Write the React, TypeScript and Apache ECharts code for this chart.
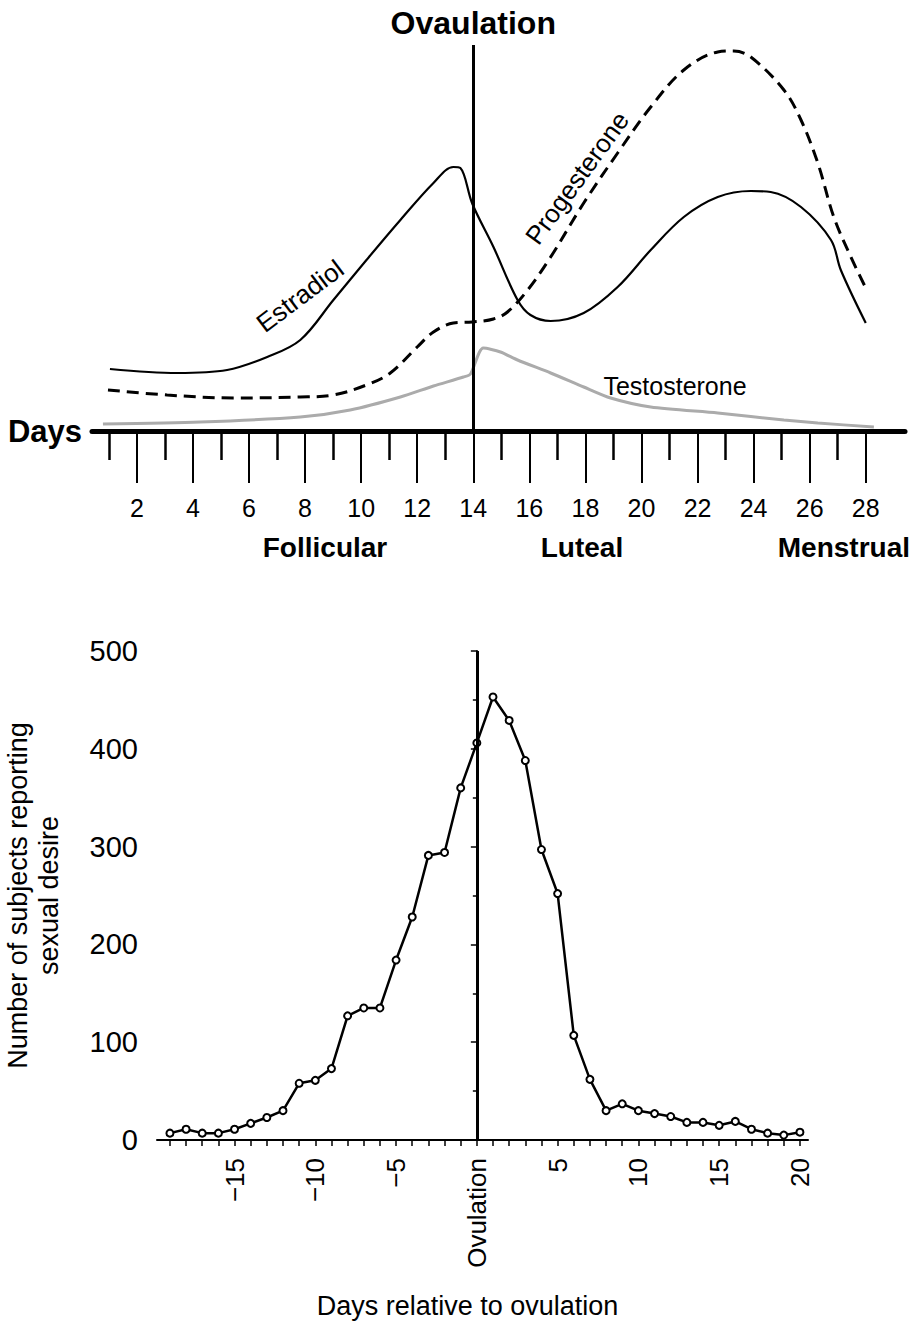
import { useEffect, useRef } from 'react';
import * as echarts from 'echarts';

const FONT = '"Liberation Sans", Arial, Helvetica, sans-serif';

// top panel: hormone levels over the cycle (relative units, 0 = the Days axis)
const estradiolDay = [1.04, 3.44, 5.22, 6.65, 7.83, 9.01, 10.19, 11.4, 12.58, 13.29, 13.54, 13.97, 14.72, 15.58, 16.04, 16.76, 17.94, 19.15, 20.33, 21.51, 22.72, 23.9, 24.61, 25.69, 26.76, 27.11, 28.0];
const estradiolLevel = [15.5, 14.5, 15.25, 18.5, 22.75, 32.75, 42.75, 52.75, 62, 66, 65.75, 56.75, 46, 32.75, 29, 27.5, 29.5, 36, 45.25, 53.5, 58.5, 60, 59.75, 56, 47.75, 40.25, 27];

const progesteroneDay = [0.97, 3.08, 5.44, 7.83, 9.01, 10.19, 11.04, 12.0, 12.58, 13.29, 13.97, 14.72, 15.22, 15.94, 16.76, 17.94, 19.15, 20.33, 21.51, 22.72, 23.29, 23.9, 25.08, 25.69, 26.29, 26.86, 27.47, 28.0];
const progesteroneLevel = [10.25, 9, 8.25, 8.5, 9, 11.5, 14.5, 21, 24.75, 27, 27.25, 28, 29.75, 35.25, 43.5, 57, 69.5, 81, 90.25, 94.75, 95, 93.5, 85.25, 77.75, 67, 53.5, 43.5, 35.75];

const testosteroneDay = [0.79, 4.26, 7.83, 9.61, 11.4, 12.58, 13.65, 13.9, 14.36, 14.97, 15.58, 16.76, 17.94, 18.9, 20.33, 22.72, 25.08, 26.29, 28.29];
const testosteroneLevel = [1.75, 2.25, 3.5, 5.25, 8.5, 11.25, 13.5, 14.25, 20.75, 19.75, 17.75, 14.5, 11, 8.25, 6, 4.5, 2.75, 2, 1];

const cycleShortTicks = [1, 3, 5, 7, 9, 11, 13, 15, 17, 19, 21, 23, 25, 27];
const cycleLabelDays = [2, 4, 6, 8, 10, 12, 14, 16, 18, 20, 22, 24, 26, 28];
const ovulationCycleDay = 14;

// bottom panel: subjects reporting sexual desire by day relative to ovulation
const relativeDays = [-19, -18, -17, -16, -15, -14, -13, -12, -11, -10, -9, -8, -7, -6, -5, -4, -3, -2, -1, 0, 1, 2, 3, 4, 5, 6, 7, 8, 9, 10, 11, 12, 13, 14, 15, 16, 17, 18, 19, 20];
const desireCounts = [7, 11, 7, 7, 11, 17, 23, 30, 58, 61, 73, 127, 135, 135, 184, 228, 291, 294, 360, 406, 453, 429, 388, 297, 252, 107, 62, 30, 37, 30, 27, 24, 18, 18, 15, 19, 11, 7, 5, 8];
const relativeTickLabels = [-15, -10, -5, 0, 5, 10, 15, 20];

const zip = (xs: number[], ys: number[]) => xs.map((x, i) => [x, ys[i]]);

const App = () => {
  const chartRef = useRef<HTMLDivElement>(null);

  useEffect(() => {
    document.body.style.margin = '0';
    if (!chartRef.current) return;
    const chart = echarts.init(chartRef.current, null, { renderer: 'svg' });

    const txt = { fontFamily: FONT, color: '#000' };

    const option: echarts.EChartsOption = {
      animation: false,
      backgroundColor: '#fff',
      textStyle: { fontFamily: FONT },
      grid: [
        { left: 92, right: 8, top: 45, bottom: 894, containLabel: false, outerBoundsMode: 'none' },
        { left: 157, right: 105, top: 651, bottom: 185, containLabel: false, outerBoundsMode: 'none' },
      ],
      xAxis: [
        {
          gridIndex: 0, type: 'value', position: 'bottom', min: 0.4, max: 29.4,
          axisLine: { show: true, lineStyle: { color: '#000', width: 5 } },
          axisTick: { show: true, customValues: cycleShortTicks, length: 29, lineStyle: { color: '#000', width: 2.5 } },
          axisLabel: { show: false },
          splitLine: { show: false },
          name: 'Days', nameLocation: 'start', nameGap: 10,
          nameTextStyle: { ...txt, fontSize: 31, fontWeight: 'bold', verticalAlign: 'middle' },
        },
        {
          gridIndex: 0, type: 'value', position: 'bottom', min: 0.4, max: 29.4,
          axisLine: { show: false },
          axisTick: { show: true, customValues: cycleLabelDays, length: 52, lineStyle: { color: '#000', width: 2 } },
          axisLabel: { show: true, customValues: cycleLabelDays, margin: 64, fontSize: 25, ...txt },
          splitLine: { show: false },
        },
        {
          gridIndex: 1, type: 'value', position: 'bottom', min: -19.8, max: 20.5,
          axisLine: { show: true, onZero: false, lineStyle: { color: '#000', width: 2 } },
          axisTick: { show: true, customValues: relativeDays, length: 6, lineStyle: { color: '#000', width: 1.5 } },
          axisLabel: {
            show: true, customValues: relativeTickLabels, rotate: 90, margin: 18, fontSize: 26, ...txt,
            formatter: (v: number) => (v === 0 ? 'Ovulation' : v < 0 ? '\u2212' + Math.abs(v) : String(v)),
          },
          splitLine: { show: false },
          name: 'Days relative to ovulation', nameLocation: 'middle', nameGap: 152,
          nameTextStyle: { ...txt, fontSize: 27, padding: [0, 30, 0, 0] },
        },
      ],
      yAxis: [
        { gridIndex: 0, type: 'value', min: 0, max: 96.5, show: false },
        {
          gridIndex: 1, type: 'value', min: 0, max: 500, interval: 100,
          axisLine: { show: true, lineStyle: { color: '#000', width: 2 } },
          axisTick: { show: true, length: 6, lineStyle: { color: '#000', width: 1.5 } },
          minorTick: { show: true, splitNumber: 2, length: 4, lineStyle: { color: '#000', width: 1.5 } },
          splitLine: { show: false },
          axisLabel: { fontSize: 29, margin: 19, ...txt },
          name: 'Number of subjects reporting\nsexual desire', nameLocation: 'middle', nameGap: 93,
          nameTextStyle: { ...txt, fontSize: 27, lineHeight: 31 },
        },
      ],
      series: [
        {
          name: 'Estradiol', type: 'line', xAxisIndex: 0, yAxisIndex: 0,
          data: zip(estradiolDay, estradiolLevel), showSymbol: false, smooth: 0.35,
          lineStyle: { color: '#000', width: 2.2 },
          markLine: {
            silent: true, symbol: ['none', 'none'],
            data: [{ xAxis: ovulationCycleDay }],
            lineStyle: { color: '#000', width: 3, type: 'solid' },
            label: { show: true, position: 'end', formatter: 'Ovaulation', fontSize: 32, fontWeight: 'bold', distance: 6, ...txt },
          },
        },
        {
          name: 'Progesterone', type: 'line', xAxisIndex: 0, yAxisIndex: 0,
          data: zip(progesteroneDay, progesteroneLevel), showSymbol: false, smooth: 0.35,
          lineStyle: { color: '#000', width: 3, type: [12, 7] },
        },
        {
          name: 'Testosterone', type: 'line', xAxisIndex: 0, yAxisIndex: 0,
          data: zip(testosteroneDay, testosteroneLevel), showSymbol: false, smooth: 0.25,
          lineStyle: { color: '#ababab', width: 3 },
        },
        {
          name: 'Sexual desire', type: 'line', xAxisIndex: 2, yAxisIndex: 1,
          data: zip(relativeDays, desireCounts), symbol: 'circle', symbolSize: 7,
          itemStyle: { color: '#fff', borderColor: '#000', borderWidth: 2 },
          lineStyle: { color: '#000', width: 2.5 },
          z: 3,
          markLine: {
            silent: true, symbol: ['none', 'none'],
            data: [{ xAxis: 0 }],
            lineStyle: { color: '#000', width: 3, type: 'solid' },
            label: { show: false },
          },
        },
      ],
      graphic: [
        { type: 'text', x: 300, y: 296, rotation: (37 * Math.PI) / 180, style: { text: 'Estradiol', fontSize: 26, fontFamily: FONT, fill: '#000', textAlign: 'center', textVerticalAlign: 'middle' } },
        { type: 'text', x: 577, y: 178, rotation: (54 * Math.PI) / 180, style: { text: 'Progesterone', fontSize: 26, fontFamily: FONT, fill: '#000', textAlign: 'center', textVerticalAlign: 'middle' } },
        { type: 'text', x: 675, y: 386, style: { text: 'Testosterone', fontSize: 25, fontFamily: FONT, fill: '#000', textAlign: 'center', textVerticalAlign: 'middle' } },
        { type: 'text', x: 325, y: 547, style: { text: 'Follicular', fontSize: 28, fontWeight: 'bold', fontFamily: FONT, fill: '#000', textAlign: 'center', textVerticalAlign: 'middle' } },
        { type: 'text', x: 582, y: 547, style: { text: 'Luteal', fontSize: 28, fontWeight: 'bold', fontFamily: FONT, fill: '#000', textAlign: 'center', textVerticalAlign: 'middle' } },
        { type: 'text', x: 910, y: 547, style: { text: 'Menstrual', fontSize: 28, fontWeight: 'bold', fontFamily: FONT, fill: '#000', textAlign: 'right', textVerticalAlign: 'middle' } },
      ],
    };

    chart.setOption(option);
    return () => {
      chart.dispose();
    };
  }, []);

  return <div ref={chartRef} style={{ width: '913px', height: '1325px' }} />;
};

export default App;
